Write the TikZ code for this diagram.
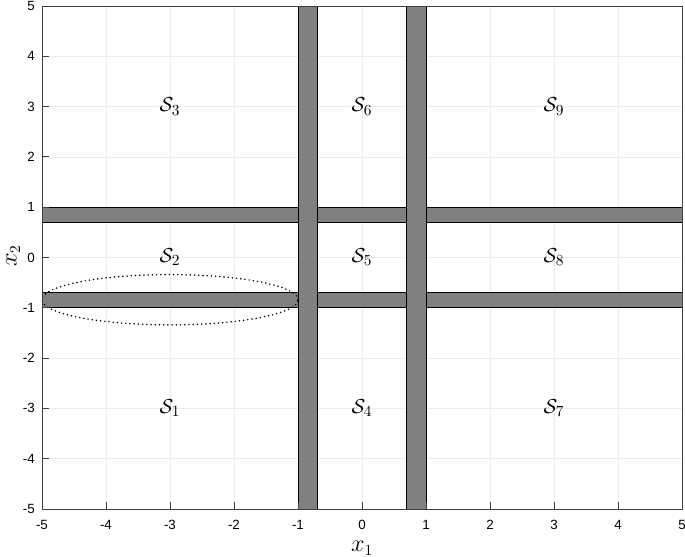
\documentclass[tikz,border=0pt]{standalone}
\usepackage{amsmath,amssymb}
\usepackage{fontspec}
\setsansfont{Liberation Sans}
\usepackage{tikz}
\usetikzlibrary{positioning,calc}
\usepackage{xcolor}

\tikzset{
  band/.style={fill=gray,draw=black,line width=0.6pt},
  gridline/.style={gray!15,line width=0.5pt},
  frameline/.style={black!75,line width=0.6pt},
  ticklab/.style={font=\fontsize{9.5}{11}\sffamily,inner sep=0pt},
  regionlab/.style={font=\fontsize{15}{18}\selectfont},
  axislab/.style={font=\fontsize{16}{19}\selectfont,inner sep=0pt}
}

\begin{document}
\begin{tikzpicture}[x=1.6cm,y=1.2575cm]
\useasboundingbox (-5.656,-5.954) rectangle (5.047,5.119);
% grid
\foreach \k in {-4,...,4} {
  \draw[gridline] (\k,-5) -- (\k,5);
  \draw[gridline] (-5,\k) -- (5,\k);
}
% horizontal bands
\draw[band] (-5,0.7) rectangle (5,1);
\draw[band] (-5,-1) rectangle (5,-0.7);
% vertical bands
\draw[band] (-1,-5) rectangle (-0.7,5);
\draw[band] (0.7,-5) rectangle (1,5);
% dotted ellipse
\draw[black,line width=1.2pt,line cap=round,dash pattern=on 0pt off 3pt]
  (-3,-0.84) ellipse [x radius=2,y radius=0.5];
% frame and ticks
\draw[frameline] (-5,-5) rectangle (5,5);
\foreach \k in {-5,...,5} {
  \draw[frameline] (\k,-5) -- ++(0,0.139);
  \draw[frameline] (-5,\k) -- ++(0.109,0);
  \node[ticklab] (xt\k) at ($(\k,-5)+(0,-0.4cm)$) {\k};
  \node[ticklab,anchor=east] (yt\k) at ($(-5,\k)+(-0.175cm,0)$) {\k};
}
% region labels
\node[regionlab] (s1) at (-3,-3) {$\mathcal{S}_1$};
\node[regionlab] (s2) at (-3,0) {$\mathcal{S}_2$};
\node[regionlab] (s3) at (-3,3) {$\mathcal{S}_3$};
\node[regionlab] (s4) at (0,-3) {$\mathcal{S}_4$};
\node[regionlab] (s5) at (0,0) {$\mathcal{S}_5$};
\node[regionlab] (s6) at (0,3) {$\mathcal{S}_6$};
\node[regionlab] (s7) at (3,-3) {$\mathcal{S}_7$};
\node[regionlab] (s8) at (3,0) {$\mathcal{S}_8$};
\node[regionlab] (s9) at (3,3) {$\mathcal{S}_9$};
% axis labels
\node[axislab] (xlab) at (0,-5.775) {$x_1$};
\node[axislab,rotate=90] (ylab) at (-5.45,0.03) {$x_2$};
\end{tikzpicture}
\end{document}
